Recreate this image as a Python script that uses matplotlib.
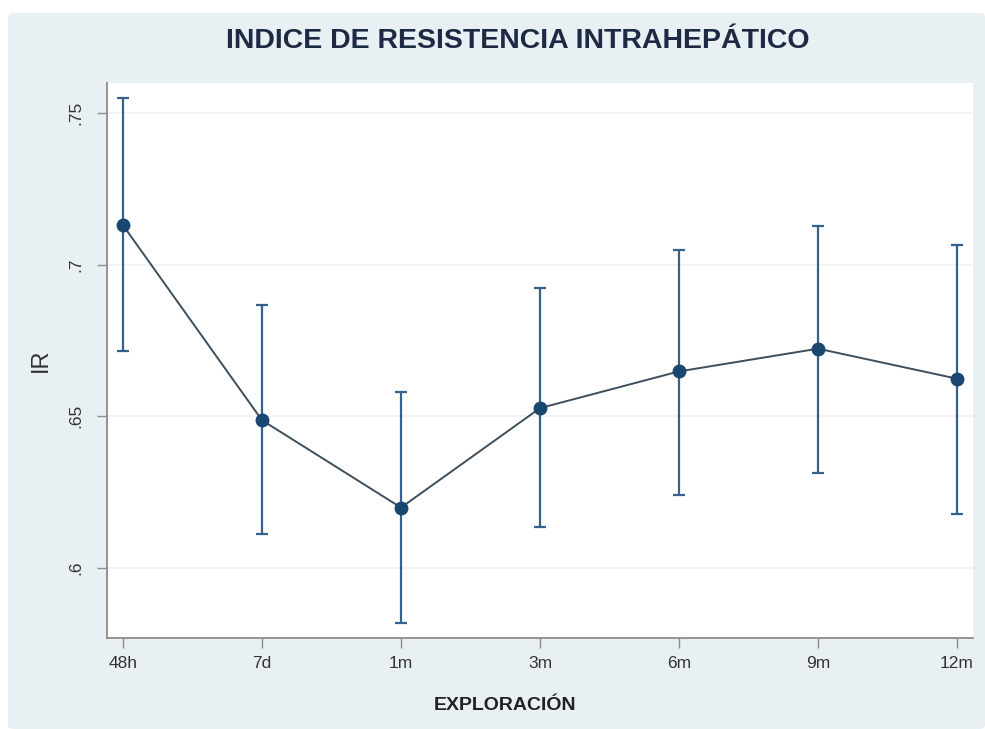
import matplotlib
matplotlib.use("Agg")
import matplotlib.pyplot as plt
from matplotlib.patches import FancyBboxPatch

# values
labels = ["48h", "7d", "1m", "3m", "6m", "9m", "12m"]
ir_mean = [0.7130, 0.6487, 0.6199, 0.6527, 0.6648, 0.6723, 0.6624]
ir_upper = [0.7550, 0.6866, 0.6580, 0.6923, 0.7050, 0.7127, 0.7066]
ir_lower = [0.6714, 0.6111, 0.5820, 0.6136, 0.6242, 0.6314, 0.6179]
yticks = [0.6, 0.65, 0.7, 0.75]
ytick_labels = [".6", ".65", ".7", ".75"]

BG = "#e9f0f3"
NAVY = "#1a476f"

plt.rcParams["font.family"] = ["Liberation Sans", "DejaVu Sans"]

fig = plt.figure(figsize=(9.85, 7.29), dpi=100)
fig.patch.set_facecolor("white")
fig.patches.append(FancyBboxPatch(
    (8 / 985, 0), 1 - 8 / 985, 1 - 13 / 729,
    boxstyle="round,pad=0,rounding_size=0.006",
    transform=fig.transFigure, facecolor=BG, edgecolor="none", zorder=-10,
))

ax = fig.add_axes([107 / 985, 1 - 638 / 729, (973 - 107) / 985, (638 - 83) / 729])
ax.set_facecolor("white")

x = list(range(len(labels)))
yerr = [[m - lo for m, lo in zip(ir_mean, ir_lower)],
        [hi - m for m, hi in zip(ir_mean, ir_upper)]]

for y in yticks:
    ax.axhline(y, color="#eef2f4", linewidth=1.2, zorder=0)

ax.errorbar(x, ir_mean, yerr=yerr, fmt="none", ecolor="#34628c",
            elinewidth=1.6, capsize=4, capthick=1.6, zorder=2)
ax.plot(x, ir_mean, color="#3d4e5c", linewidth=1.4, zorder=3)
ax.plot(x, ir_mean, "o", color=NAVY, markersize=9, zorder=4)

ax.set_xlim(-16 / 139, 6 + 16 / 139)
ax.set_ylim(0.5769, 0.7599)
ax.set_xticks(x)
ax.set_xticklabels(labels)
ax.set_yticks(yticks)
ax.set_yticklabels(ytick_labels, rotation=90, va="center")

for side in ("top", "right"):
    ax.spines[side].set_visible(False)
for side in ("left", "bottom"):
    ax.spines[side].set_color("#8c8c8c")
    ax.spines[side].set_linewidth(1.3)

ax.tick_params(axis="both", colors="#8c8c8c", length=7, width=1.0,
               labelsize=12.5, labelcolor="#333333")
ax.tick_params(axis="y", pad=10)
ax.tick_params(axis="x", pad=6)

ax.set_ylabel("IR", fontsize=17, color="#333333", labelpad=12)
ax.set_xlabel("EXPLORACIÓN", fontsize=14, fontweight="bold", color="#222222",
              va="center")
# label sits a bit left of the axes centre in the original
ax.xaxis.set_label_coords((505 - 107) / 866, -(705 - 638) / 555)

fig.text(518 / 985, 1 - 41 / 729, "INDICE DE RESISTENCIA INTRAHEPÁTICO",
         ha="center", va="center", fontsize=20.5, fontweight="bold",
         color="#1e2a44")

fig.savefig("out.png", dpi=100, facecolor="white")
